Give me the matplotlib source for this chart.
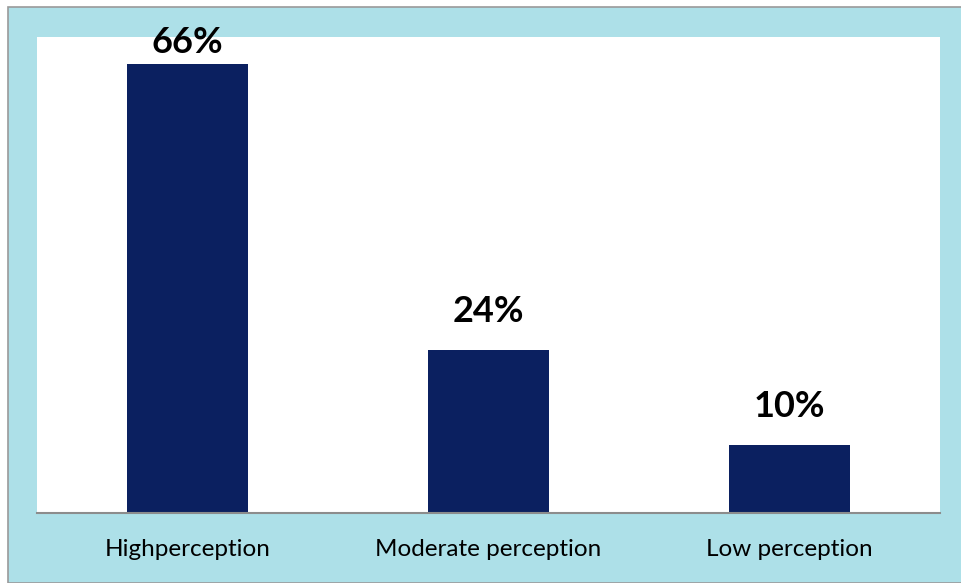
import matplotlib
matplotlib.use("Agg")
import matplotlib.pyplot as plt
from matplotlib.patches import Rectangle

categories = ["Highperception", "Moderate perception", "Low perception"]
values = [66, 24, 10]
labels = ["66%", "24%", "10%"]

W, H = 962, 583
fig = plt.figure(figsize=(W / 100, H / 100), dpi=100)
fig.patch.set_facecolor("white")

# textured-looking frame behind the chart
fig.patches.append(Rectangle((8 / W, 0), 1 - 8 / W, 1 - 7 / H, transform=fig.transFigure,
                             facecolor="#ade0e8", edgecolor="#9a9a9a", linewidth=1.2, zorder=-5))

ax = fig.add_axes([37 / W, (H - 513) / H, 903 / W, 476 / H])
ax.set_zorder(1)
ax.set_facecolor("white")
x = range(len(categories))
ax.bar(x, values, width=0.4, color="#0b2060")
for i, (v, t) in enumerate(zip(values, labels)):
    # top label gets pushed down to stay inside the chart, like excel does
    ax.text(i, min(v + 3.2, 66.8), t, ha="center", va="bottom", fontsize=26, fontweight="bold",
            family=["Lato", "DejaVu Sans"], color="black", clip_on=False)

ax.set_xlim(-0.5, 2.5)
ax.set_ylim(0, 70)
ax.set_yticks([])
ax.set_xticks(list(x))
ax.set_xticklabels(categories, fontsize=17.5, family=["Lato", "DejaVu Sans"])
ax.tick_params(axis="x", length=0, pad=19)
for s in ["top", "left", "right"]:
    ax.spines[s].set_visible(False)
ax.spines["bottom"].set_color("#8c8c8c")
ax.spines["bottom"].set_linewidth(1.5)

fig.savefig("out.png", dpi=100)
